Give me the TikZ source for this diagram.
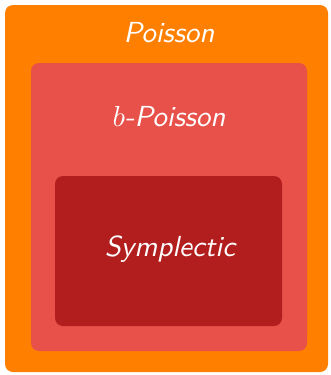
\documentclass[tikz,border=0pt]{standalone}
\definecolor{outerc}{HTML}{FF8000}
\definecolor{midc}{HTML}{E8504A}
\definecolor{innerc}{HTML}{B21E1E}
\tikzset{
  box/.style={rounded corners=8pt, draw=none},
  lbl/.style={text=white, font=\sffamily\slshape, inner sep=0pt, scale=2.9}
}
\begin{document}
\begin{tikzpicture}[x=1pt,y=-1pt]
\useasboundingbox (0,0) rectangle (331,375);
\fill[outerc, box] (5,5) rectangle (328,372);
\fill[midc, box] (31,63) rectangle (307,351);
\fill[innerc, box] (55,176) rectangle (282,326);
\node[lbl] (p) at (169,33) {Poisson};
\node[lbl] (bp) at (169,117) {$b$-Poisson};
\node[lbl] (s) at (170,249) {Symplectic};
\end{tikzpicture}
\end{document}
